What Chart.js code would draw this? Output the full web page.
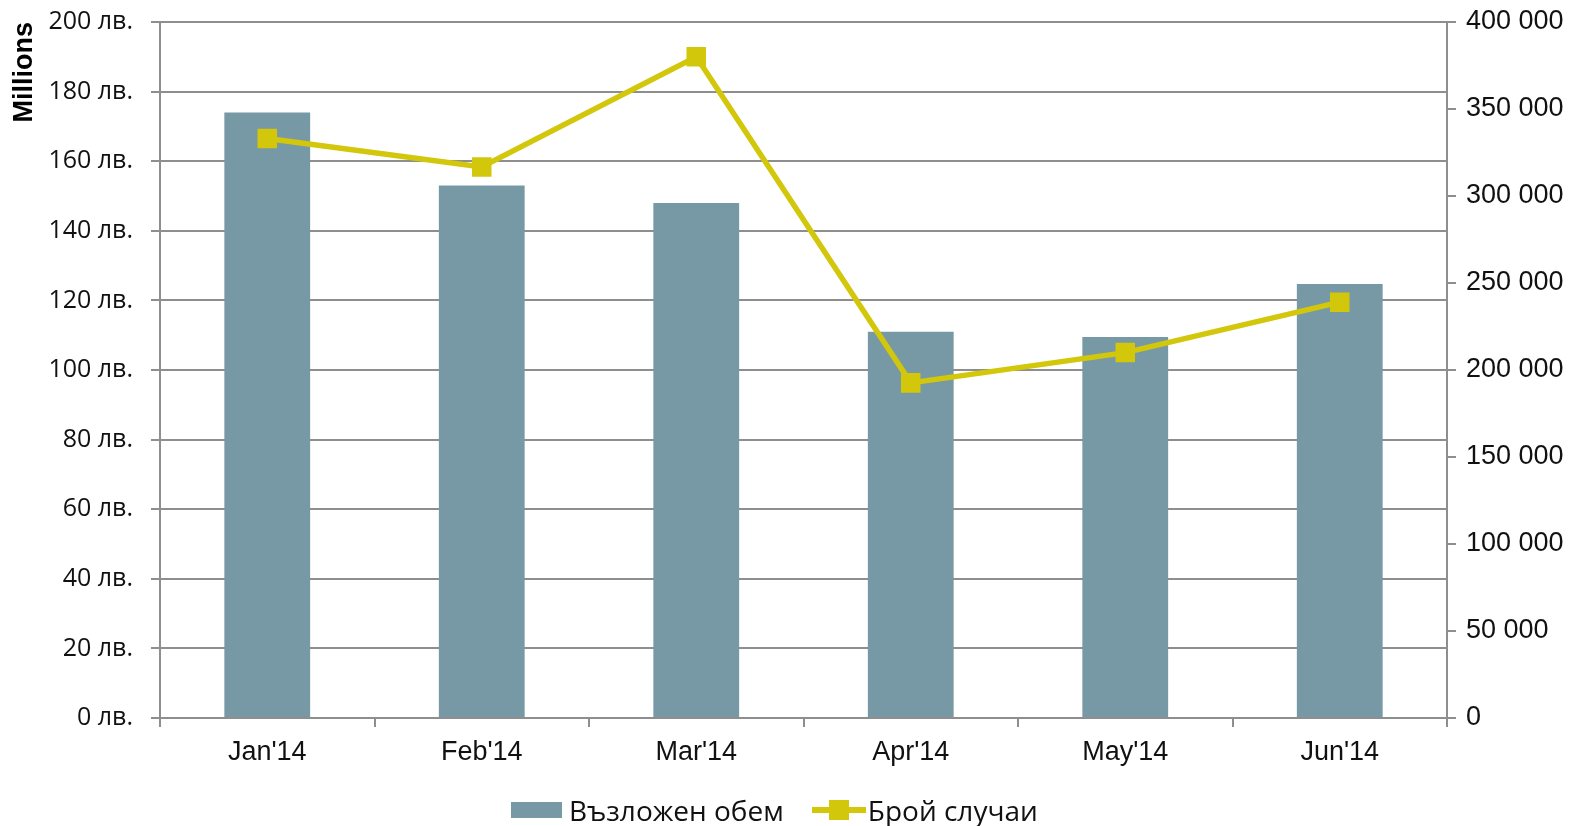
<!DOCTYPE html>
<html>
<head>
<meta charset="utf-8">
<script src="https://cdn.jsdelivr.net/npm/chart.js@4"></script>
<style>
    body { margin: 0; background: #fff; }
    #wrap { position: relative; width: 1596px; height: 826px; }
    #legend {
        position: absolute; left: 511px; top: 795px;
        display: flex; align-items: center;
        font-family: "Open Sans", sans-serif; font-size: 28px; color: #111;
        line-height: 30px;
    }
    .item { display: flex; align-items: center; }
    .box { width: 51px; height: 16px; margin-right: 7px; }
    .lineKey { position: relative; width: 54px; height: 20px; margin-right: 2px; }
    .lineKey .ln { position: absolute; left: 0; right: 0; top: 7px; height: 6px; }
    .lineKey .sq { position: absolute; left: 17px; top: 0; width: 20px; height: 20px; }
</style>
</head>
<body>
<div id="wrap">
    <canvas id="chart"></canvas>
    <div id="legend"></div>
</div>
<script>
// Данни от графиката
const months = ["Jan'14", "Feb'14", "Mar'14", "Apr'14", "May'14", "Jun'14"];
const volume = [174, 153, 148, 111, 109.5, 124.7];           // милиони лв.
const cases = [333000, 316700, 380000, 192600, 210000, 239000];
const volumeLabel = 'Възложен обем';
const casesLabel = 'Брой случаи';
const leftTicks = { min: 0, max: 200, step: 20 };
const rightTicks = { min: 0, max: 400000, step: 50000 };

const barColor = '#7799a5';
const lineColor = '#d2c70b';
const gridColor = '#8e8e8e';

function spaced(n) {
    return String(n).replace(/\B(?=(\d{3})+(?!\d))/g, ' ');
}

// вертикалните оси да не добавят отстъп над графиката
function fixVertical(width) {
    return s => {
        s.width = width;
        s.paddingTop = 0;
        s.paddingBottom = 0;
    };
}

const ctx = document.getElementById('chart').getContext('2d');
new Chart(ctx, {
    type: 'bar',
    data: {
        labels: months,
        datasets: [{
            type: 'line',
            label: casesLabel,
            data: cases,
            yAxisID: 'y1',
            borderColor: lineColor,
            backgroundColor: lineColor,
            borderWidth: 5.5,
            pointStyle: 'rect',
            pointBorderWidth: 0,
            pointRadius: 13.8,
            pointHoverRadius: 13.8,
            tension: 0,
            order: 0
        }, {
            label: volumeLabel,
            data: volume,
            yAxisID: 'y',
            backgroundColor: barColor,
            categoryPercentage: 0.8,
            barPercentage: 0.5,
            order: 1
        }]
    },
    options: {
        responsive: true,
        maintainAspectRatio: false,
        animation: false,
        layout: { padding: { top: 22, right: 0, left: 0, bottom: 0 } },
        plugins: {
            legend: { display: false },
            tooltip: { enabled: false }
        },
        scales: {
            x: {
                grid: { offset: true, drawOnChartArea: false, color: gridColor, lineWidth: 2, tickLength: 9 },
                border: { color: gridColor, width: 2 },
                ticks: { color: '#111', font: { family: 'Liberation Sans, Arial', size: 27 }, padding: 9 },
                afterFit: s => { s.height = 108; s.paddingLeft = 0; s.paddingRight = 0; }
            },
            y: {
                position: 'left',
                min: leftTicks.min, max: leftTicks.max,
                ticks: {
                    stepSize: leftTicks.step,
                    color: '#111',
                    padding: 18,
                    font: { family: 'Open Sans', size: 25 },
                    callback: v => v + ' лв.'
                },
                grid: { color: gridColor, lineWidth: 2, tickLength: 9 },
                border: { color: gridColor, width: 2 },
                title: {
                    display: true, text: 'Millions', align: 'end',
                    color: '#000',
                    font: { family: 'Liberation Sans, Arial', size: 27, weight: 'bold' },
                    padding: { top: 8, bottom: 0 }
                },
                afterFit: fixVertical(160)
            },
            y1: {
                position: 'right',
                min: rightTicks.min, max: rightTicks.max,
                ticks: {
                    stepSize: rightTicks.step,
                    color: '#111',
                    padding: 10,
                    font: { family: 'Liberation Sans, Arial', size: 27 },
                    callback: v => spaced(v)
                },
                grid: { drawOnChartArea: false, color: gridColor, lineWidth: 2, tickLength: 9 },
                border: { color: gridColor, width: 2 },
                afterFit: fixVertical(149)
            }
        }
    }
});

// Легенда
const legend = document.getElementById('legend');
legend.innerHTML =
    '<div class="item"><span class="box" style="background:' + barColor + '"></span>' + volumeLabel + '</div>' +
    '<div class="item" style="margin-left:28px"><span class="lineKey"><span class="ln" style="background:' + lineColor + '"></span>' +
    '<span class="sq" style="background:' + lineColor + '"></span></span>' + casesLabel + '</div>';
</script>
</body>
</html>
